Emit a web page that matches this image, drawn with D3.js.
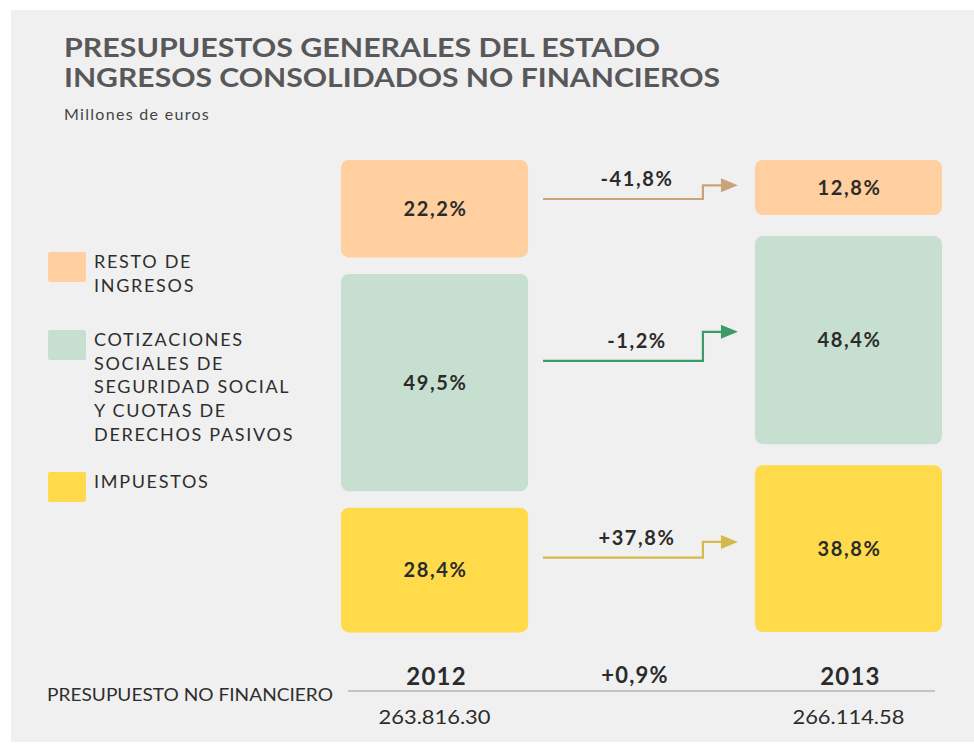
<!DOCTYPE html>
<meta charset="utf-8">
<script src="https://cdn.jsdelivr.net/npm/d3@7"></script>
<style>
  body { margin: 0; background: #fff; }
  text { font-family: Lato, "Open Sans", sans-serif; }
  .title { font-size: 26px; font-weight: 700; fill: #58585a; }
  .sub { font-size: 16px; fill: #444; letter-spacing: 1.3px; }
  .legend { font-size: 18px; fill: #2e2e2e; letter-spacing: 1.7px; }
  .pct { font-size: 20px; font-weight: 700; fill: #2b2b2b; letter-spacing: 1.6px; }
  .year { font-size: 24px; font-weight: 700; fill: #2b2b2b; letter-spacing: 1.2px; }
  .total { font-size: 19px; fill: #2b2b2b; }
</style>
<div id="chart"></div>
<script>
// data
var categories = ["RESTO DE INGRESOS", "COTIZACIONES SOCIALES", "IMPUESTOS"];
var legendLines = [
  ["RESTO DE", "INGRESOS"],
  ["COTIZACIONES", "SOCIALES DE", "SEGURIDAD SOCIAL", "Y CUOTAS DE", "DERECHOS PASIVOS"],
  ["IMPUESTOS"]
];
var years = ["2012", "2013"];
var share2012 = [22.2, 49.5, 28.4];
var share2013 = [12.8, 48.4, 38.8];
var changes = [-41.8, -1.2, 37.8];
var totalLabels = ["263.816.30", "266.114.58"];
var totalChange = 0.9;

var colors = ["#ffcf9f", "#c6dfd0", "#ffda4b"];
var arrowColors = ["#c9a47a", "#3d9b68", "#d6b94c"];

var W = 974, H = 751;
var svg = d3.select("#chart").append("svg")
  .attr("width", W).attr("height", H);

// panel
svg.append("rect").attr("x", 11).attr("y", 10).attr("width", W - 11).attr("height", 732)
  .attr("fill", "#f0f0f0");

svg.append("text").attr("class", "title").attr("x", 64).attr("y", 57)
  .attr("textLength", 596).attr("lengthAdjust", "spacingAndGlyphs")
  .text("PRESUPUESTOS GENERALES DEL ESTADO");
svg.append("text").attr("class", "title").attr("x", 64).attr("y", 87)
  .attr("textLength", 656).attr("lengthAdjust", "spacingAndGlyphs")
  .text("INGRESOS CONSOLIDADOS NO FINANCIEROS");
svg.append("text").attr("class", "sub").attr("x", 64).attr("y", 120)
  .text("Millones de euros");

var fmtPct = function(v, sign) {
  var s = d3.format(".1f")(Math.abs(v)).replace(".", ",") + "%";
  if (!sign) return s;
  return (v < 0 ? "-" : "+") + s;
};

// columns
var x = d3.scaleBand().domain(years).range([341, 942]).paddingInner(0.548);
var yTop = 160, yBottom = 632;
var gaps = {"2012": 16.5, "2013": 21};
var shares = {"2012": share2012, "2013": share2013};

var blocks = {};
years.forEach(function(yr) {
  var g = gaps[yr];
  var y = d3.scaleLinear().domain([0, 100]).range([yTop, yBottom - 2 * g]);
  var cum = 0;
  blocks[yr] = shares[yr].map(function(v, i) {
    var b = { yr: yr, i: i, v: v, y0: y(cum) + i * g, y1: y(cum + v) + i * g };
    cum += v;
    return b;
  });
  var col = svg.append("g");
  col.selectAll("rect").data(blocks[yr]).join("rect")
    .attr("x", x(yr)).attr("width", x.bandwidth())
    .attr("y", function(d) { return d.y0; })
    .attr("height", function(d) { return d.y1 - d.y0; })
    .attr("rx", 8)
    .attr("fill", function(d) { return colors[d.i]; });
  col.selectAll("text").data(blocks[yr]).join("text")
    .attr("class", "pct")
    .attr("x", x(yr) + x.bandwidth() / 2 + 1)
    .attr("y", function(d) { return (d.y0 + d.y1) / 2 + 7; })
    .attr("text-anchor", "middle")
    .text(function(d) { return fmtPct(d.v, false); });
});

// arrows
var x0 = x("2012") + x.bandwidth() + 15;
var xTip = x("2013") - 17;
var xStep = xTip - 35;
changes.forEach(function(c, i) {
  var b1 = blocks["2012"][i], b2 = blocks["2013"][i];
  var yA = b1.y0 + 0.4 * (b1.y1 - b1.y0);
  var yB = b2.y0 + 0.46 * (b2.y1 - b2.y0);
  var g = svg.append("g");
  g.append("path")
    .attr("d", d3.line()([[x0, yA], [xStep, yA], [xStep, yB], [xTip - 15, yB]]))
    .attr("fill", "none").attr("stroke", arrowColors[i]).attr("stroke-width", 2.2);
  g.append("path")
    .attr("d", d3.line()([[xTip - 17, yB - 7], [xTip, yB], [xTip - 17, yB + 7]]) + "Z")
    .attr("fill", arrowColors[i]);
  g.append("text").attr("class", "pct")
    .attr("x", 637).attr("y", yA - 13).attr("text-anchor", "middle")
    .text(fmtPct(c, true));
});

// legend
legendLines.forEach(function(lines, i) {
  var ly = [252, 330, 472][i];
  svg.append("rect").attr("x", 48).attr("y", ly).attr("width", 38).attr("height", 30)
    .attr("rx", 2).attr("fill", colors[i]);
  svg.append("text").attr("class", "legend").attr("x", 94).attr("y", ly + 16)
    .selectAll("tspan").data(lines).join("tspan")
    .attr("x", 94).attr("dy", function(d, j) { return j ? 23.7 : 0; })
    .text(function(d) { return d; });
});

// bottom totals
svg.append("line").attr("x1", 348).attr("x2", 935).attr("y1", 691).attr("y2", 691)
  .attr("stroke", "#c4c4c4").attr("stroke-width", 2);
svg.append("text").attr("class", "legend").attr("x", 47).attr("y", 701)
  .style("letter-spacing", "0px")
  .attr("textLength", 286).attr("lengthAdjust", "spacingAndGlyphs")
  .text("PRESUPUESTO NO FINANCIERO");
years.forEach(function(yr, i) {
  var cx = x(yr) + x.bandwidth() / 2;
  svg.append("text").attr("class", "year").attr("x", cx + 2).attr("y", 685)
    .attr("text-anchor", "middle").text(yr);
  svg.append("text").attr("class", "total").attr("x", cx - 56).attr("y", 724)
    .attr("textLength", 112).attr("lengthAdjust", "spacingAndGlyphs")
    .text(totalLabels[i]);
});
svg.append("text").attr("class", "year").attr("x", 635).attr("y", 683)
  .attr("text-anchor", "middle").style("font-size", "22px").text(fmtPct(totalChange, true));
</script>
